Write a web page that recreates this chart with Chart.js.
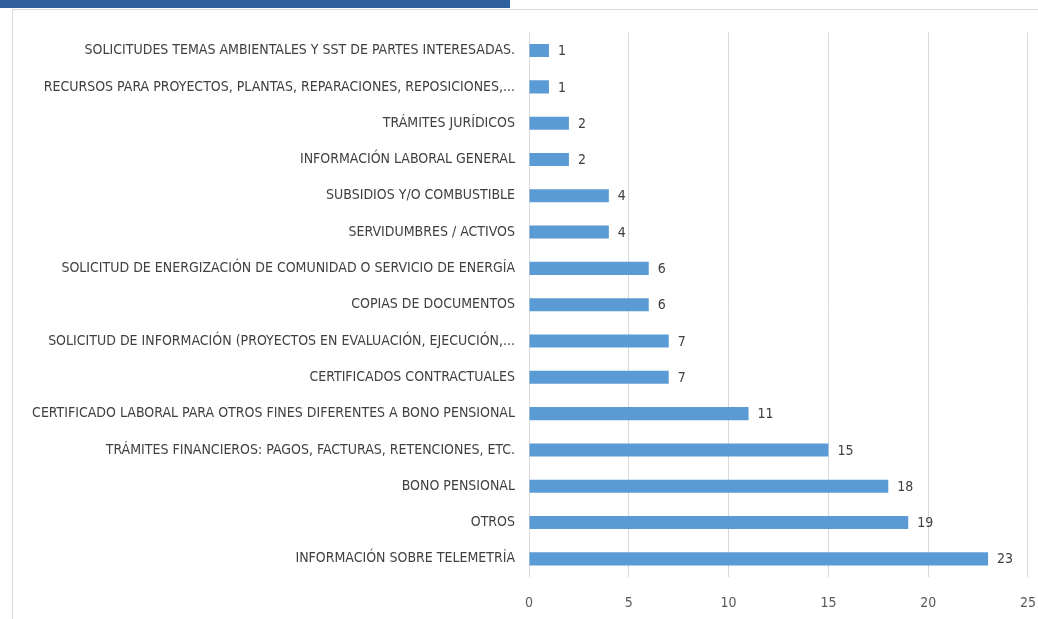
<!DOCTYPE html>
<html>
<head>
<meta charset="utf-8">
<script src="https://cdn.jsdelivr.net/npm/chart.js@4.4.1/dist/chart.umd.min.js"></script>
<style>
    html, body { margin: 0; padding: 0; background: #ffffff; }
    body { width: 1038px; height: 619px; position: relative; overflow: hidden; }
    #topBand { position: absolute; left: 0; top: 0; width: 510px; height: 8px; background: #2f5f9f; }
    #frame { position: absolute; left: 12px; top: 9px; right: -2px; bottom: -2px; border: 1px solid #d9d9d9; }
    #chartWrap { position: absolute; left: 13px; top: 10px; width: 1041px; height: 609px; }
</style>
</head>
<body>
<div id="topBand"></div>
<div id="frame"></div>
<div id="chartWrap"><canvas id="requestsChart"></canvas></div>
<script>
// Request categories, top to bottom
const categories = [
    'SOLICITUDES TEMAS AMBIENTALES Y SST DE PARTES INTERESADAS.',
    'RECURSOS PARA PROYECTOS, PLANTAS, REPARACIONES, REPOSICIONES,...',
    'TRÁMITES JURÍDICOS',
    'INFORMACIÓN LABORAL GENERAL',
    'SUBSIDIOS Y/O COMBUSTIBLE',
    'SERVIDUMBRES / ACTIVOS',
    'SOLICITUD DE ENERGIZACIÓN DE COMUNIDAD O SERVICIO DE ENERGÍA',
    'COPIAS DE DOCUMENTOS',
    'SOLICITUD DE INFORMACIÓN (PROYECTOS EN EVALUACIÓN, EJECUCIÓN,...',
    'CERTIFICADOS CONTRACTUALES',
    'CERTIFICADO LABORAL PARA OTROS FINES DIFERENTES A BONO PENSIONAL',
    'TRÁMITES FINANCIEROS: PAGOS, FACTURAS, RETENCIONES, ETC.',
    'BONO PENSIONAL',
    'OTROS',
    'INFORMACIÓN SOBRE TELEMETRÍA'
];
const requestCounts = [1, 1, 2, 2, 4, 4, 6, 6, 7, 7, 11, 15, 18, 19, 23];
const xTicks = [0, 5, 10, 15, 20, 25];

const labelFont = "'Liberation Sans Narrow', 'DejaVu Sans Condensed', sans-serif";

// Writes each bar's count just past its end
const valueLabels = {
    id: 'valueLabels',
    afterDatasetsDraw(chart) {
        const ctx = chart.ctx;
        const meta = chart.getDatasetMeta(0);
        ctx.save();
        ctx.font = '14px ' + labelFont;
        ctx.fillStyle = '#404040';
        ctx.textAlign = 'left';
        ctx.textBaseline = 'middle';
        meta.data.forEach((bar, i) => {
            ctx.fillText(String(requestCounts[i]), bar.x + 9, bar.y + 1);
        });
        ctx.restore();
    }
};

new Chart(document.getElementById('requestsChart'), {
    type: 'bar',
    data: {
        labels: categories,
        datasets: [{
            data: requestCounts,
            backgroundColor: '#5b9bd5',
            borderWidth: 0,
            categoryPercentage: 1,
            barPercentage: 0.36
        }]
    },
    options: {
        indexAxis: 'y',
        responsive: true,
        maintainAspectRatio: false,
        animation: false,
        layout: { padding: { top: 22, right: 11, bottom: 0, left: 0 } },
        plugins: {
            legend: { display: false },
            tooltip: { enabled: false }
        },
        scales: {
            x: {
                min: 0,
                max: 25,
                afterBuildTicks: scale => { scale.ticks = xTicks.map(v => ({ value: v })); },
                afterFit: scale => { scale.height = 42; },
                grid: { color: '#d9d9d9', lineWidth: 1, drawTicks: false },
                border: { display: false },
                ticks: {
                    padding: 18,
                    color: '#595959',
                    font: { family: labelFont, size: 14 }
                }
            },
            y: {
                afterFit: scale => { scale.width = 516; },
                grid: { display: false, drawTicks: false },
                border: { display: false },
                ticks: {
                    padding: 14,
                    autoSkip: false,
                    color: '#404040',
                    font: { family: labelFont, size: 14 }
                }
            }
        }
    },
    plugins: [valueLabels]
});
</script>
</body>
</html>
